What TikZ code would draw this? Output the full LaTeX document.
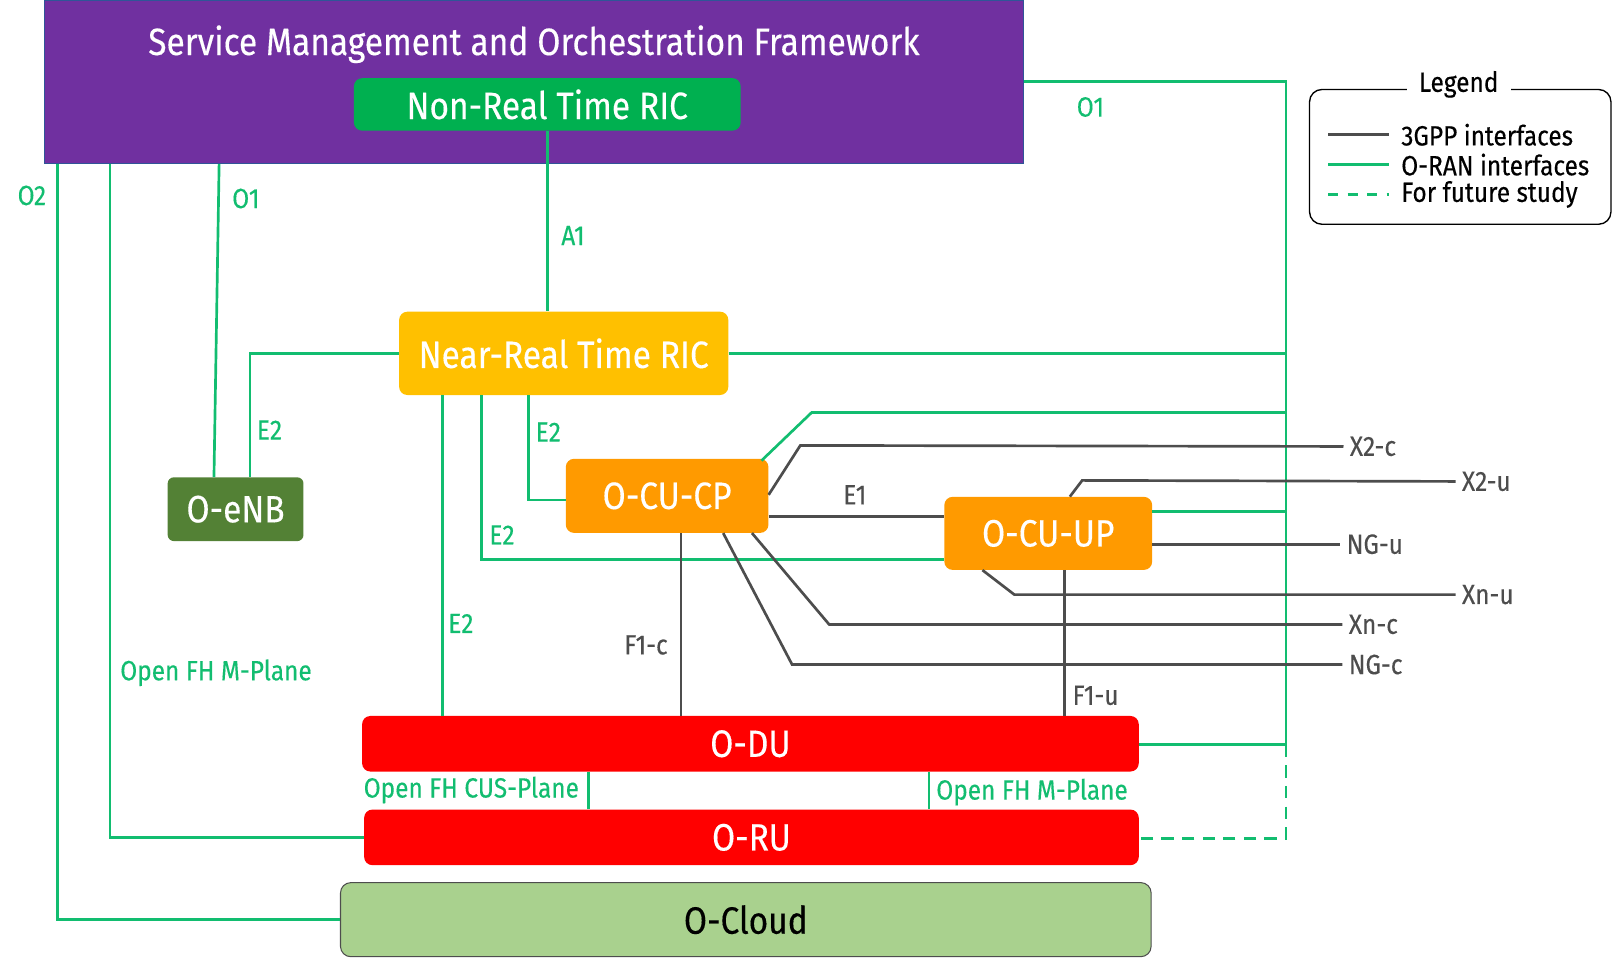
\documentclass[tikz,border=0pt]{standalone}
\usepackage{fontspec}
\setmainfont{Fira Sans}[FakeStretch=0.88, FakeBold=0.3]
\usetikzlibrary{calc}
\definecolor{smo}{HTML}{7030A0}
\definecolor{smoborder}{HTML}{2F5597}
\definecolor{nonrt}{HTML}{00B050}
\definecolor{nearrt}{HTML}{FFC000}
\definecolor{enb}{HTML}{538135}
\definecolor{cu}{HTML}{FF9A00}
\definecolor{du}{HTML}{FF0000}
\definecolor{cloud}{HTML}{A9D18E}
\definecolor{oranc}{RGB}{18,189,112}
\definecolor{tgppc}{HTML}{4D4D4D}
\tikzset{
  bigfont/.style={font=\fontsize{37}{40}\selectfont},
  smallfont/.style={font=\fontsize{27}{30}\selectfont},
  blk/.style={rounded corners=8pt, text=white, bigfont, inner sep=0pt},
  oran/.style={draw=oranc, line width=2.6pt},
  tgpp/.style={draw=tgppc, line width=2.6pt},
  olbl/.style={text=oranc, smallfont, inner sep=2pt},
  glbl/.style={text=tgppc, smallfont, inner sep=2pt},
  gend/.style={glbl, anchor=west, inner xsep=6pt},
}
\begin{document}
\begin{tikzpicture}[x=1pt,y=-1pt]
\useasboundingbox (0,0) rectangle (1568,933);
% main blocks
\node[fill=smo, draw=smoborder, line width=1.2pt, minimum width=952pt, minimum height=159pt, inner sep=0pt] (smo) at (519,79.5) {};
\node[text=white, bigfont] (smotitle) at (519,43) {Service Management and Orchestration Framework};
\node[blk, fill=nonrt, minimum width=376pt, minimum height=51pt] (nonrt) at (532,101.5) {Non-Real Time RIC};
\node[blk, fill=nearrt, minimum width=320pt, minimum height=81pt] (nearrt) at (548,343.5) {Near-Real Time RIC};
\node[blk, fill=enb, minimum width=132pt, minimum height=62pt, rounded corners=6pt] (oenb) at (229,495) {O-eNB};
\node[blk, fill=cu, minimum width=197pt, minimum height=72pt] (ocucp) at (648.5,482) {O-CU-CP};
\node[blk, fill=cu, minimum width=202pt, minimum height=71pt] (ocuup) at (1019,518.5) {O-CU-UP};
\node[blk, fill=du, minimum width=755pt, minimum height=54pt] (odu) at (729.5,723) {O-DU};
\node[blk, fill=du, minimum width=753pt, minimum height=54pt] (oru) at (730.5,814) {O-RU};
\node[blk, fill=cloud, draw=tgppc, line width=1pt, text=black, minimum width=788pt, minimum height=72pt, rounded corners=10pt] (ocloud) at (725,894) {O-Cloud};
% bus coordinates
\coordinate (busT) at (1250,79);
\coordinate (busB) at (1250,724);
\coordinate (busD) at (1250,815);
% O-RAN interfaces
\draw[oran] (smo.south -| 56,0) |- (ocloud.west);
\draw[oran] (smo.south -| 107,0) |- (oru.west);
\draw[oran] (smo.south -| 213,0) -- (oenb.north -| 208,0);
\draw[oran] (nonrt.south) -- (nearrt.north -| nonrt.south);
\draw[oran] (smo.east |- busT) -- (busT) -- (busB) -- (odu.east |- busB);
\draw[oran, dashed, dash pattern=on 12pt off 8pt] (busB) -- (busD) -- (oru.east |- busD);
\draw[oran] (nearrt.east) -- (nearrt.east -| busT);
\draw[oran] ($(ocucp.north east)+(-7,2)$) -- (789,401) -- (busT |- 0,401);
\draw[oran] (ocuup.east |- 0,497) -- (busT |- 0,497);
\draw[oran] (nearrt.west) -| (oenb.north -| 243,0);
\draw[oran] (nearrt.south -| 514,0) |- (ocucp.west |- 0,486);
\draw[oran] (nearrt.south -| 468,0) |- (ocuup.west |- 0,544);
\draw[oran] (nearrt.south -| 430,0) -- (odu.north -| 430,0);
\draw[oran] (odu.south -| 572,0) -- (oru.north -| 572,0);
\draw[oran] (odu.south -| 903,0) -- (oru.north -| 903,0);
% 3GPP interface end labels
\node[gend] (x2c) at (1306,434) {X2-c};
\node[gend] (x2u) at (1415,468) {X2-u};
\node[gend] (ngu) at (1303,529) {NG-u};
\node[gend] (xnu) at (1415,578) {Xn-u};
\node[gend] (xnc) at (1305,607) {Xn-c};
\node[gend] (ngc) at (1305,646) {NG-c};
% 3GPP interfaces
\draw[tgpp] (ocucp.east |- 0,481) -- (778,433) -- (x2c.west);
\draw[tgpp] (ocuup.north -| 1040,0) -- (1052,467) -- (x2u.west);
\draw[tgpp] (ocuup.east |- 0,529) -- (ngu.west);
\draw[tgpp] (ocuup.south -| 955,0) -- (986,578) -- (xnu.west);
\draw[tgpp] (ocucp.south -| 731,0) -- (806,607) -- (xnc.west);
\draw[tgpp] (ocucp.south -| 703,0) -- (770,646) -- (ngc.west);
\draw[tgpp] (ocucp.south -| 662,0) -- (odu.north -| 662,0);
\draw[tgpp] (ocuup.south -| 1035,0) -- (odu.north -| 1035,0);
\draw[tgpp] (ocucp.east |- 0,502) -- (ocuup.west |- 0,502);
% interface labels
\node[olbl] (lo2) at (31,190) {O2};
\node[olbl] (lo1a) at (239,193) {O1};
\node[olbl] (la1) at (557,229) {A1};
\node[olbl] (lo1b) at (1060,104) {O1};
\node[olbl] (le2a) at (262,418) {E2};
\node[olbl] (le2b) at (533,420) {E2};
\node[olbl] (le2c) at (488,520) {E2};
\node[olbl] (le2d) at (448,606) {E2};
\node[olbl] (lmp1) at (210,654) {Open FH M-Plane};
\node[olbl, anchor=east] (lcus) at (565,768) {Open FH CUS-Plane};
\node[olbl, anchor=west] (lmp2) at (908,770) {Open FH M-Plane};
\node[glbl] (le1) at (831,481) {E1};
\node[glbl] (lf1c) at (628,627) {F1-c};
\node[glbl] (lf1u) at (1065,676) {F1-u};
% legend
\node[draw=black, line width=1.3pt, rounded corners=12pt, minimum width=293pt, minimum height=131pt, inner sep=0pt] (legend) at (1419.5,152.5) {};
\node[fill=white, text=black, smallfont, inner xsep=12pt, inner ysep=1pt] (legtitle) at (1418,82) {Legend};
\draw[tgpp] (1291,131) -- (1350,131);
\draw[oran] (1291,160) -- (1350,160);
\draw[oran, dashed, dash pattern=on 10pt off 9pt] (1291,189) -- (1350,189);
\node[text=black, smallfont, anchor=west, inner sep=0pt] (leg1) at (1362,131) {3GPP interfaces};
\node[text=black, smallfont, anchor=west, inner sep=0pt] (leg2) at (1362,160) {O-RAN interfaces};
\node[text=black, smallfont, anchor=west, inner sep=0pt] (leg3) at (1362,189) {For future study};
\end{tikzpicture}
\end{document}
